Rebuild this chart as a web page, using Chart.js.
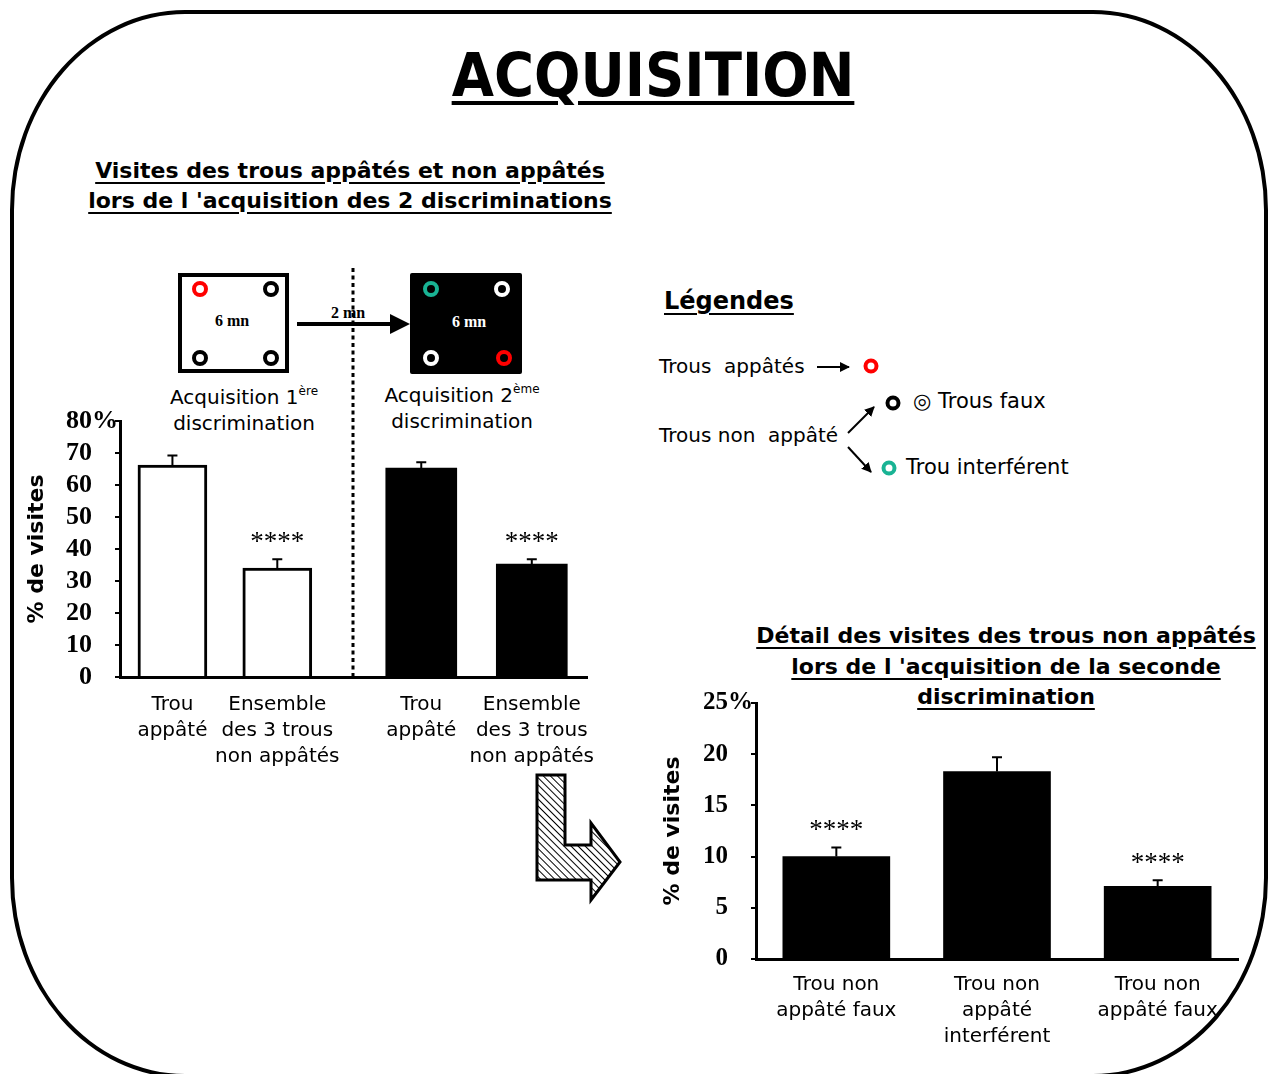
<!DOCTYPE html>
<html lang="fr">
<head>
<meta charset="utf-8">
<title>Acquisition</title>
<script src="https://cdn.jsdelivr.net/npm/chart.js@4.4.1/dist/chart.umd.min.js"></script>
<style>
  html, body { margin: 0; padding: 0; background: #fff; }
  body { width: 1269px; height: 1074px; position: relative; overflow: hidden; font-family: "DejaVu Sans", sans-serif; color: #000; }
  .frame { position: absolute; left: 10px; top: 10px; width: 1258px; height: 1068px; box-sizing: border-box; border: 4px solid #000; border-radius: 175px / 200px; }
  .head { position: absolute; font-weight: bold; text-align: center; white-space: nowrap; text-decoration: underline; text-decoration-thickness: 2px; text-underline-offset: 4px; }
  #title { left: 653px; top: 45px; font-size: 60px; line-height: 61px; transform: translateX(-50%) scaleX(0.91); text-decoration-thickness: 4px; text-underline-offset: 5px; }
  #subA { left: 350px; top: 156px; font-size: 22px; line-height: 30px; transform: translateX(-50%); }
  #subB { left: 1006px; top: 621px; font-size: 22px; line-height: 30.5px; transform: translateX(-50%); }
  #legTitle { left: 664px; top: 286px; font-size: 24px; line-height: 30px; text-align: left; }
  svg { position: absolute; left: 0; top: 0; }
  canvas { position: absolute; }
  #acq1 { left: 20px; top: 401px; }
  #acq2 { left: 325px; top: 401px; }
  #detail { left: 656px; top: 683px; }
</style>
</head>
<body>
<div class="frame"></div>
<div class="head" id="title">ACQUISITION</div>
<div class="head" id="subA">Visites des trous appâtés et non appâtés<br>lors de l 'acquisition des 2 discriminations</div>
<div class="head" id="subB">Détail des visites des trous non appâtés<br>lors de l 'acquisition de la seconde<br>discrimination</div>
<div class="head" id="legTitle">Légendes</div>

<svg width="1269" height="1074" viewBox="0 0 1269 1074">
  <defs>
    <pattern id="hatch" width="5" height="5" patternUnits="userSpaceOnUse" patternTransform="rotate(-45)">
      <line x1="0" y1="0" x2="0" y2="5" stroke="#000" stroke-width="2"/>
    </pattern>
    <marker id="head" viewBox="0 0 10 10" refX="9" refY="5" markerWidth="5" markerHeight="5" orient="auto">
      <path d="M0,0 L10,5 L0,10 z" fill="#000"/>
    </marker>
  </defs>

  <!-- plan des deux sessions -->
  <rect x="180" y="275" width="107" height="96" fill="#fff" stroke="#000" stroke-width="4"/>
  <circle cx="200" cy="289" r="6" fill="none" stroke="#f00" stroke-width="4"/>
  <circle cx="271" cy="289" r="6" fill="none" stroke="#000" stroke-width="4"/>
  <circle cx="200" cy="358" r="6" fill="none" stroke="#000" stroke-width="4"/>
  <circle cx="271" cy="358" r="6" fill="none" stroke="#000" stroke-width="4"/>
  <text x="232" y="326" text-anchor="middle" font-family="Liberation Serif" font-weight="bold" font-size="16">6 mn</text>

  <rect x="410" y="273" width="112" height="101" rx="2" fill="#000"/>
  <circle cx="431" cy="289" r="6" fill="none" stroke="#19b394" stroke-width="4"/>
  <circle cx="502" cy="289" r="6" fill="none" stroke="#fff" stroke-width="4"/>
  <circle cx="431" cy="358" r="6" fill="none" stroke="#fff" stroke-width="4"/>
  <circle cx="504" cy="358" r="6" fill="none" stroke="#f00" stroke-width="4"/>
  <text x="469" y="327" text-anchor="middle" font-family="Liberation Serif" font-weight="bold" font-size="16" fill="#fff">6 mn</text>

  <line x1="297" y1="324" x2="392" y2="324" stroke="#000" stroke-width="4"/>
  <polygon points="390,314 410,324 390,334" fill="#000"/>
  <text x="348" y="318" text-anchor="middle" font-family="Liberation Serif" font-weight="bold" font-size="16">2 mn</text>

  <line x1="353" y1="268" x2="353" y2="679" stroke="#000" stroke-width="3" stroke-dasharray="4 3.5"/>

  <g font-family="DejaVu Sans" font-size="20" text-anchor="middle">
    <text x="244" y="404">Acquisition 1<tspan font-size="12" dy="-9">ère</tspan></text>
    <text x="244" y="430">discrimination</text>
    <text x="462" y="402">Acquisition 2<tspan font-size="12" dy="-9">ème</tspan></text>
    <text x="462" y="428">discrimination</text>
  </g>

  <!-- légendes -->
  <g font-family="DejaVu Sans" font-size="20">
    <text x="659" y="373" xml:space="preserve">Trous  appâtés</text>
    <text x="659" y="442" xml:space="preserve">Trous non  appâté</text>
    <text x="913" y="408" font-size="21">◎ Trous faux</text>
    <text x="906" y="474" font-size="21">Trou interférent</text>
  </g>
  <line x1="817" y1="367" x2="849" y2="367" stroke="#000" stroke-width="2" marker-end="url(#head)"/>
  <line x1="848" y1="433" x2="874" y2="407" stroke="#000" stroke-width="2" marker-end="url(#head)"/>
  <line x1="848" y1="447" x2="871" y2="472" stroke="#000" stroke-width="2" marker-end="url(#head)"/>
  <circle cx="871" cy="366" r="5.5" fill="none" stroke="#f00" stroke-width="4"/>
  <circle cx="893" cy="403" r="5.5" fill="none" stroke="#000" stroke-width="4"/>
  <circle cx="889" cy="468" r="5.5" fill="none" stroke="#19b394" stroke-width="4"/>

  <polygon points="537,775 565,775 565,845 591,845 591,823 620,862 591,900 591,880 537,880" fill="url(#hatch)" stroke="#000" stroke-width="3"/>
</svg>

<canvas id="acq1" width="340" height="371"></canvas>
<canvas id="acq2" width="289" height="371"></canvas>
<canvas id="detail" width="602" height="371"></canvas>

<script>
// data (% of visits, mean and SEM)
const holeLabels = [["Trou", "appâté"], ["Ensemble", "des 3 trous", "non appâtés"]]
const acq1Values = [66.2, 34.0]
const acq1Errors = [3.0, 2.8]
const acq2Values = [65.3, 35.3]
const acq2Errors = [1.8, 1.5]
const holeStars = ["", "****"]

const detailLabels = [["Trou non", "appâté faux"], ["Trou non", "appâté", "interférent"], ["Trou non", "appâté faux"]]
const detailValues = [10.0, 18.3, 7.1]
const detailErrors = [0.9, 1.4, 0.6]
const detailStars = ["****", "", "****"]

const leftTicks = { max: 80, step: 10 }
const rightTicks = { max: 25, step: 5 }

Chart.defaults.font.family = "'DejaVu Sans', sans-serif"
Chart.defaults.color = "#000"

// error bars + significance stars on top of each bar
const errorBars = {
  id: "errorBars",
  afterDatasetsDraw(chart, args, opts) {
    const { ctx } = chart
    const y = chart.scales.y
    const meta = chart.getDatasetMeta(0)
    ctx.save()
    ctx.strokeStyle = "#000"
    ctx.lineWidth = 2
    ctx.fillStyle = "#000"
    ctx.font = "27px 'Liberation Serif'"
    ctx.textAlign = "center"
    ctx.textBaseline = "alphabetic"
    meta.data.forEach((bar, i) => {
      const base = y.getPixelForValue(opts.values[i])
      const top = y.getPixelForValue(opts.values[i] + opts.errors[i])
      ctx.beginPath()
      ctx.moveTo(bar.x, base)
      ctx.lineTo(bar.x, top)
      ctx.moveTo(bar.x - 5, top)
      ctx.lineTo(bar.x + 5, top)
      ctx.stroke()
      if (opts.stars[i]) {
        ctx.fillText(opts.stars[i], bar.x, top - 9)
      }
    })
    ctx.restore()
  }
}

// joins the x axis of the second panel to the first one
const axisLink = {
  id: "axisLink",
  afterDraw(chart, args, opts) {
    if (!opts.extend) return
    const { ctx, chartArea } = chart
    ctx.save()
    ctx.strokeStyle = "#000"
    ctx.lineWidth = 3
    ctx.beginPath()
    ctx.moveTo(chartArea.left - opts.extend, chartArea.bottom + 0.5)
    ctx.lineTo(chartArea.left + 2, chartArea.bottom + 0.5)
    ctx.stroke()
    ctx.restore()
  }
}

function yAxis(ticks, show, fontSize, pad) {
  return {
    display: show,
    min: 0,
    max: ticks.max,
    ticks: {
      stepSize: ticks.step,
      autoSkip: false,
      color: "#000",
      crossAlign: "near",
      padding: pad,
      font: { family: "'Liberation Serif'", weight: "bold", size: fontSize },
      // "%" only on the top label, others padded so the numbers line up on the left
      callback: v => (v === ticks.max ? v + "%" : v + "\u2007\u2007")
    },
    grid: { drawOnChartArea: false, drawTicks: true, tickLength: 5, color: "#000", lineWidth: 2 },
    border: { display: true, color: "#000", width: 3 },
    title: { display: true, text: "% de visites", color: "#000", font: { weight: "bold", size: 22 } },
    afterFit: s => { s.width = show ? 100 : 0 }
  }
}

function xAxis(pad) {
  return {
    grid: { drawOnChartArea: false, drawTicks: false },
    border: { display: true, color: "#000", width: 3 },
    ticks: { color: "#000", padding: pad, autoSkip: false, maxRotation: 0, font: { size: 20, lineHeight: 1.3 } },
    afterFit: s => { s.height = 95 }
  }
}

function barChart(id, labels, values, errors, stars, style, opts) {
  return new Chart(document.getElementById(id), {
    type: "bar",
    data: {
      labels: labels,
      datasets: [{
        data: values,
        backgroundColor: style.fill,
        borderColor: "#000",
        borderWidth: style.border,
        barThickness: style.width
      }]
    },
    options: {
      responsive: false,
      animation: false,
      layout: { padding: opts.padding },
      scales: { x: xAxis(opts.labelPad), y: opts.y },
      plugins: {
        legend: { display: false },
        tooltip: { enabled: false },
        errorBars: { values: values, errors: errors, stars: stars },
        axisLink: { extend: opts.extend || 0 }
      }
    },
    plugins: [errorBars, axisLink]
  })
}

barChart("acq1", holeLabels, acq1Values, acq1Errors, holeStars,
  { fill: "#fff", border: 3, width: 69 },
  { padding: { top: 20, right: 22, left: 0, bottom: 0 }, y: yAxis(leftTicks, true, 26, -3), labelPad: 15 })

barChart("acq2", holeLabels, acq2Values, acq2Errors, holeStars,
  { fill: "#000", border: 0, width: 71 },
  { padding: { top: 20, right: 20, left: 41, bottom: 0 }, y: yAxis(leftTicks, false, 26, -3), labelPad: 15, extend: 41 })

barChart("detail", detailLabels, detailValues, detailErrors, detailStars,
  { fill: "#000", border: 0, width: 107 },
  { padding: { top: 20, right: 20, left: 0, bottom: 0 }, y: yAxis(rightTicks, true, 25, -2), labelPad: 13 })
</script>
</body>
</html>
